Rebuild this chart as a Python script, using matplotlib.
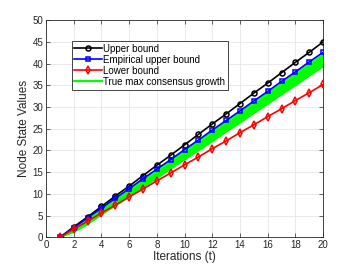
import numpy as np
import matplotlib
matplotlib.use("Agg")
import matplotlib.pyplot as plt
from matplotlib.lines import Line2D

t = np.arange(1, 21)
upper = [0.0, 2.4, 4.7, 7.1, 9.5, 11.8, 14.2, 16.6, 18.9, 21.3,
         23.7, 26.1, 28.4, 30.8, 33.2, 35.5, 37.9, 40.3, 42.6, 45.0]
emp_upper = [0.0, 2.2, 4.5, 6.7, 9.0, 11.2, 13.5, 15.7, 17.9, 20.2,
             22.4, 24.7, 26.9, 29.1, 31.4, 33.6, 35.9, 38.1, 40.4, 42.6]
lower = [0.0, 1.9, 3.7, 5.6, 7.4, 9.3, 11.1, 13.0, 14.8, 16.7,
         18.5, 20.4, 22.2, 24.1, 25.9, 27.8, 29.6, 31.5, 33.3, 35.2]
true_hi = [0.0, 2.0, 4.2, 6.4, 8.7, 10.9, 13.1, 15.4, 17.6, 19.8,
           22.0, 24.3, 26.5, 28.7, 31.0, 33.2, 35.4, 37.7, 39.9, 42.1]
true_lo = [0.0, 1.2, 3.0, 5.2, 7.3, 9.3, 11.5, 13.6, 15.8, 17.9,
           20.0, 22.1, 24.3, 26.4, 28.6, 30.7, 32.9, 35.0, 37.2, 39.3]

plt.rcParams["font.family"] = ["Liberation Sans", "DejaVu Sans"]
fig = plt.figure(figsize=(3.57, 2.68), dpi=100)
ax = fig.add_axes([0.129, 0.1146, 0.776, 0.81])

# green band: spread of the true max consensus runs
ax.fill_between(t, true_lo, true_hi, color="#00ff00", lw=0, zorder=2)
ax.plot(t, true_hi, color="#00ff00", lw=1.2, zorder=2)
ax.plot(t, true_lo, color="#00ff00", lw=1.2, zorder=2)

mk = dict(mfc="none", mew=1.1, ms=3.6, lw=1.2, zorder=4)
ax.plot(t, upper, color="black", marker="o", **mk)
ax.plot(t, emp_upper, color="blue", marker="s", **{**mk, "ms": 3.3})
ax.plot(t, lower, color="red", marker="d", **mk)

handles = [
    Line2D([], [], color="black", lw=1.2, marker="o", ms=3.6, mfc="none", mew=1.1),
    Line2D([], [], color="blue", lw=1.2, marker="s", ms=3.3, mfc="none", mew=1.1),
    Line2D([], [], color="red", lw=1.2, marker="d", ms=3.6, mfc="none", mew=1.1),
    Line2D([], [], color="#00ff00", lw=1.6),
]
labels = ["Upper bound", "Empirical upper bound", "Lower bound",
          "True max consensus growth"]
leg = ax.legend(handles, labels, loc="upper left", bbox_to_anchor=(0.092, 0.905),
                fontsize=7, handlelength=2.8, handletextpad=0.15,
                labelspacing=0.1, borderpad=0.3, borderaxespad=0,
                fancybox=False, framealpha=1, edgecolor="#262626")
leg.get_frame().set_linewidth(0.6)

ax.set_xlim(0, 20)
ax.set_ylim(0, 50)
ax.set_xticks(range(0, 21, 2))
ax.set_yticks(range(0, 51, 5))
ax.grid(True, color="#e6e6e6", lw=0.6)
ax.set_axisbelow(True)
ax.tick_params(direction="in", labelsize=7, colors="#262626", length=3,
               width=0.5, top=True, right=True, pad=2)
for s in ax.spines.values():
    s.set_color("#262626")
    s.set_linewidth(0.6)
ax.set_xlabel("Iterations (t)", fontsize=8.5, color="#262626", labelpad=1)
ax.set_ylabel("Node State Values", fontsize=8.5, color="#262626", labelpad=2)

fig.savefig("out.png", dpi=100)
